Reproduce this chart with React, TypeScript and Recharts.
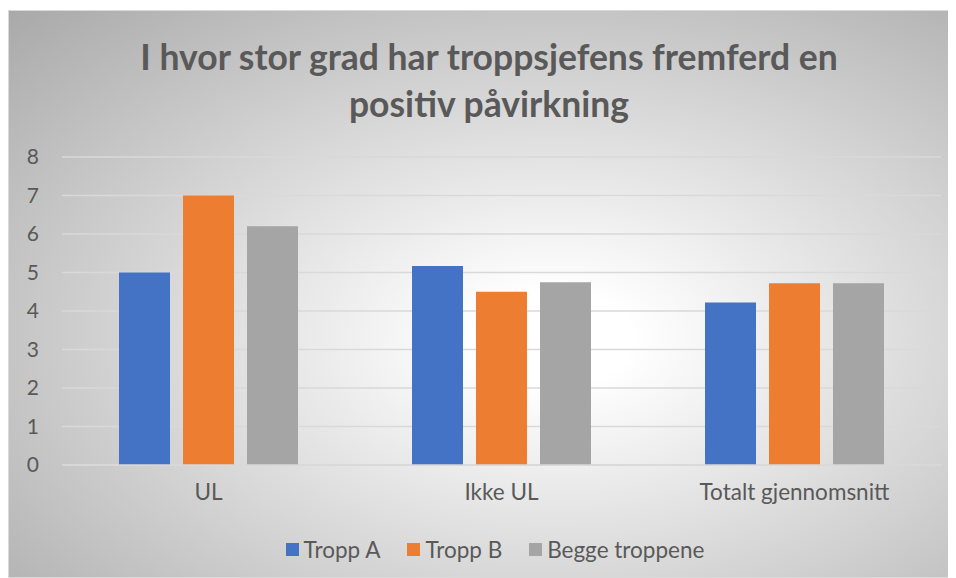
import { Bar, BarChart, CartesianGrid, Legend, XAxis, YAxis } from 'recharts';

const categories = ['UL', 'Ikke UL', 'Totalt gjennomsnitt'];
const troppA = [5.0, 5.17, 4.22];
const troppB = [7.0, 4.5, 4.72];
const beggeTroppene = [6.2, 4.75, 4.72];
const yTicks = [0, 1, 2, 3, 4, 5, 6, 7, 8];

const seriesNames = ['Tropp A', 'Tropp B', 'Begge troppene'];
const colors = ['#4472C4', '#ED7D31', '#A5A5A5'];

const data = categories.map((name, i) => ({
  name,
  a: troppA[i],
  b: troppB[i],
  c: beggeTroppene[i],
}));

const FONT = 'Lato, "Noto Sans", sans-serif';
const TEXT = '#595959';

function LegendContent() {
  return (
    <div
      style={{
        display: 'flex',
        justifyContent: 'center',
        alignItems: 'center',
        gap: 27,
        height: 26,
        paddingLeft: 40,
        fontFamily: FONT,
        fontSize: 22.5,
        color: TEXT,
      }}
    >
      {seriesNames.map((name, i) => (
        <div key={name} style={{ display: 'flex', alignItems: 'center' }}>
          <span style={{ width: 13, height: 13, background: colors[i], marginRight: 5, display: 'inline-block' }} />
          <span>{name}</span>
        </div>
      ))}
    </div>
  );
}

export default function App() {
  return (
    <div
      style={{
        position: 'relative',
        width: 940,
        height: 566,
        marginTop: 2,
        border: '1px solid #d9d9d9',
        background:
          'radial-gradient(ellipse farthest-corner at 58% 58%, #ffffff 0%, #ffffff 10%, #a9a9a9 100%)',
        fontFamily: FONT,
      }}
    >
      <div
        style={{
          position: 'absolute',
          left: 10,
          top: 22,
          width: 940,
          textAlign: 'center',
          fontSize: 35.5,
          fontWeight: 700,
          lineHeight: '47px',
          color: TEXT,
        }}
      >
        I hvor stor grad har troppsjefens fremferd en
        <br />
        positiv påvirkning
      </div>
      <BarChart
        width={940}
        height={566}
        data={data}
        margin={{ top: 146, right: 8, left: 0, bottom: 15 }}
        barSize={51}
        barGap={13}
      >
        <CartesianGrid vertical={false} stroke="#d9d9d9" strokeWidth={1.5} />
        <XAxis
          dataKey="name"
          height={71}
          axisLine={{ stroke: '#d9d9d9', strokeWidth: 1.5 }}
          tickLine={false}
          tickMargin={13}
          tick={{ fill: TEXT, fontSize: 22.5, fontFamily: FONT }}
        />
        <YAxis
          width={53}
          domain={[0, 8]}
          ticks={yTicks}
          axisLine={false}
          tickLine={false}
          tickMargin={17}
          tick={{ fill: TEXT, fontSize: 21, fontFamily: FONT }}
        />
        <Legend verticalAlign="bottom" content={<LegendContent />} />
        <Bar dataKey="a" name={seriesNames[0]} fill={colors[0]} isAnimationActive={false} />
        <Bar dataKey="b" name={seriesNames[1]} fill={colors[1]} isAnimationActive={false} />
        <Bar dataKey="c" name={seriesNames[2]} fill={colors[2]} isAnimationActive={false} />
      </BarChart>
    </div>
  );
}
